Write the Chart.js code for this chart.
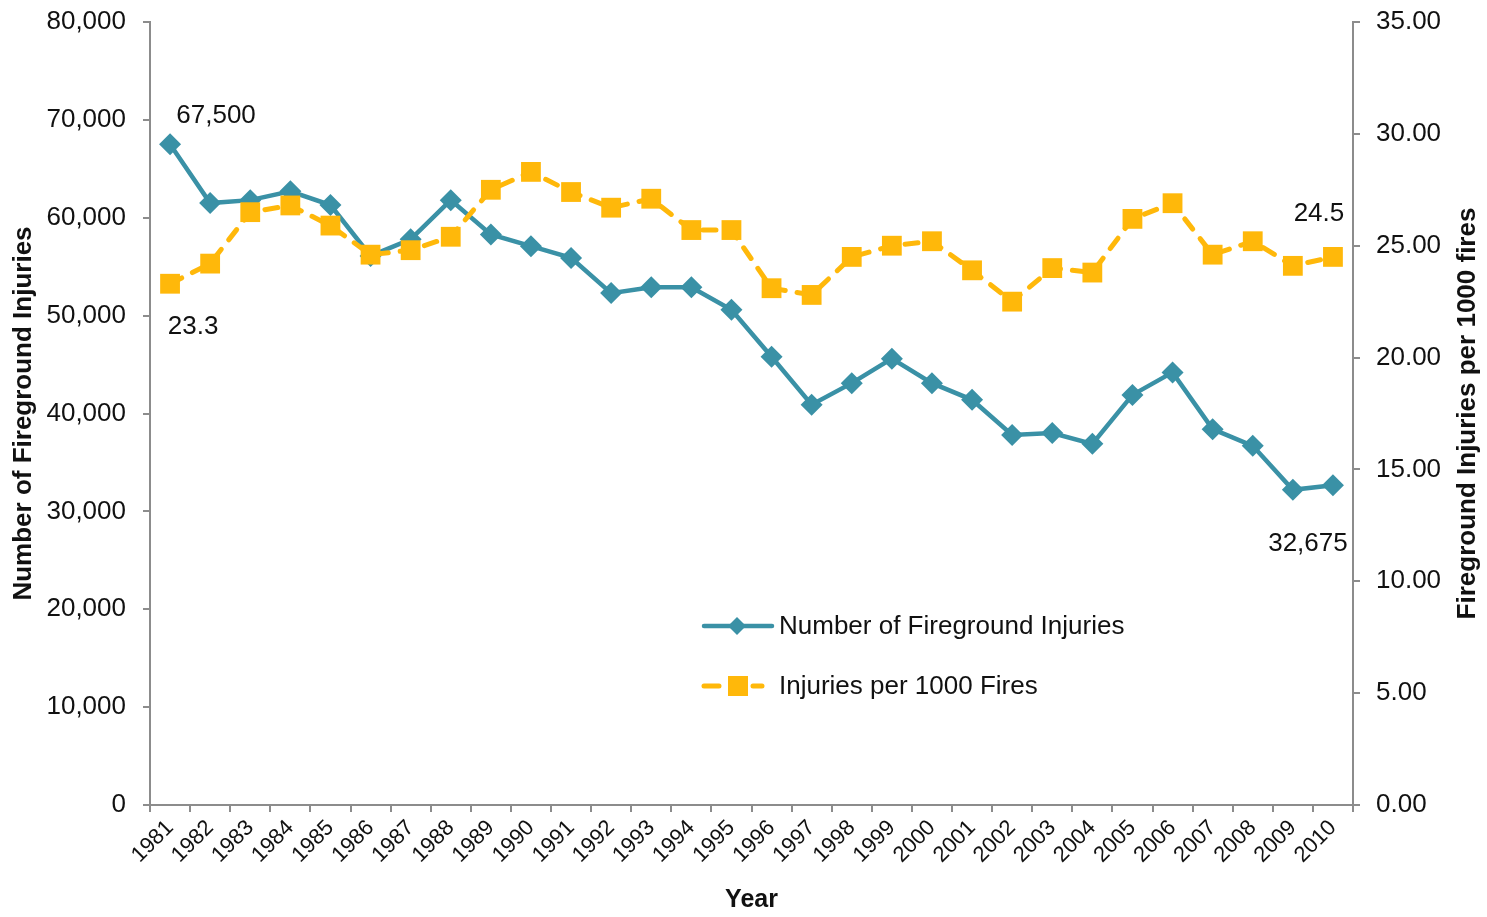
<!DOCTYPE html>
<html>
<head>
<meta charset="utf-8">
<script src="https://cdn.jsdelivr.net/npm/chart.js@4.4.0/dist/chart.umd.min.js"></script>
<style>
  html, body { margin: 0; padding: 0; background: #fff; }
  #wrap { width: 1487px; height: 917px; }
</style>
</head>
<body>
<div id="wrap"><canvas id="chart" width="1487" height="917"></canvas></div>
<script>
// Years on the x axis
var years = ['1981', '1982', '1983', '1984', '1985', '1986', '1987', '1988', '1989', '1990',
             '1991', '1992', '1993', '1994', '1995', '1996', '1997', '1998', '1999', '2000',
             '2001', '2002', '2003', '2004', '2005', '2006', '2007', '2008', '2009', '2010'];

// Number of fireground injuries (left axis)
var injuries = [67500, 61500, 61800, 62700, 61300, 56100, 57800, 61800, 58300, 57100,
                55900, 52300, 52900, 52900, 50600, 45800, 40900, 43100, 45600, 43100,
                41400, 37800, 38000, 36900, 41900, 44200, 38400, 36700, 32200, 32675];

// Injuries per 1000 fires (right axis)
var perThousand = [23.3, 24.2, 26.5, 26.8, 25.9, 24.6, 24.8, 25.4, 27.5, 28.3,
                   27.4, 26.7, 27.1, 25.7, 25.7, 23.1, 22.8, 24.5, 25.0, 25.2,
                   23.9, 22.5, 24.0, 23.8, 26.2, 26.9, 24.6, 25.2, 24.1, 24.5];

// Labels written next to some points: [dataset, index, text, dx, dy]
var pointNotes = [
    [0, 0, '67,500', 46, -29],
    [1, 0, '23.3', 23, 43],
    [1, 29, '24.5', -14, -43],
    [0, 29, '32,675', -25, 59]
];

var blue = 'rgb(58,145,166)';
var yellow = 'rgb(255,184,10)';
var axisGrey = '#8c8c8c';
var FONT = "'Liberation Sans', Arial, sans-serif";

// Notes, inside legend and right axis title
var extras = {
    id: 'extras',
    afterDraw: function(chart) {
        var ctx = chart.ctx;
        ctx.save();
        ctx.fillStyle = '#111';
        ctx.font = '26px ' + FONT;
        ctx.textAlign = 'center';
        ctx.textBaseline = 'middle';
        pointNotes.forEach(function(n) {
            var pt = chart.getDatasetMeta(n[0]).data[n[1]];
            ctx.fillText(n[2], pt.x + n[3], pt.y + n[4]);
        });

        // legend
        var ds = chart.data.datasets;
        ctx.textAlign = 'left';
        ctx.lineCap = 'round';
        // line 1
        ctx.strokeStyle = ds[0].borderColor;
        ctx.lineWidth = 4.5;
        ctx.beginPath();
        ctx.moveTo(704, 626);
        ctx.lineTo(772, 626);
        ctx.stroke();
        ctx.fillStyle = ds[0].borderColor;
        ctx.beginPath();
        ctx.moveTo(737, 617); ctx.lineTo(746, 626); ctx.lineTo(737, 635); ctx.lineTo(728, 626);
        ctx.closePath();
        ctx.fill();
        ctx.fillStyle = '#111';
        ctx.fillText(ds[0].label, 779, 627);
        // line 2
        ctx.strokeStyle = ds[1].borderColor;
        ctx.lineWidth = 5;
        ctx.beginPath();
        ctx.moveTo(704, 686); ctx.lineTo(719, 686);
        ctx.moveTo(753, 686); ctx.lineTo(762, 686);
        ctx.stroke();
        ctx.fillStyle = ds[1].borderColor;
        ctx.fillRect(728, 676, 20, 20);
        ctx.fillStyle = '#111';
        ctx.fillText(ds[1].label, 779, 687);

        // right axis title, reading bottom to top
        var area = chart.chartArea;
        ctx.translate(1468, (area.top + area.bottom) / 2);
        ctx.rotate(-Math.PI / 2);
        ctx.textAlign = 'center';
        ctx.font = 'bold 26px ' + FONT;
        ctx.fillText('Fireground Injuries per 1000 fires', 0, 0);
        ctx.restore();
    }
};

// fixed box sizes so the plot area sits where it does in the original
function fixWidth(w) {
    return function(s) { s.width = w; s.paddingTop = 0; s.paddingBottom = 0; };
}

var ctx = document.getElementById('chart').getContext('2d');
new Chart(ctx, {
    type: 'line',
    data: {
        labels: years,
        datasets: [{
            label: 'Number of Fireground Injuries',
            data: injuries,
            yAxisID: 'y',
            borderColor: blue,
            backgroundColor: blue,
            borderWidth: 4.5,
            pointStyle: 'rectRot',
            pointRadius: 11,
            pointBorderWidth: 0,
            tension: 0,
            order: 1
        }, {
            label: 'Injuries per 1000 Fires',
            data: perThousand,
            yAxisID: 'y1',
            borderColor: yellow,
            backgroundColor: yellow,
            borderWidth: 5,
            borderDash: [13, 12],
            borderCapStyle: 'round',
            pointStyle: 'rect',
            pointRadius: 14,
            pointBorderWidth: 0,
            tension: 0,
            order: 0
        }]
    },
    options: {
        responsive: false,
        animation: false,
        layout: { padding: { top: 22, left: 0, right: 0, bottom: 0 } },
        plugins: {
            legend: { display: false },
            tooltip: { enabled: false }
        },
        scales: {
            x: {
                offset: true,
                grid: { drawOnChartArea: false, offset: true, tickLength: 7, color: axisGrey, lineWidth: 2 },
                border: { color: axisGrey, width: 2 },
                ticks: { color: '#111', font: { family: FONT, size: 22 }, maxRotation: 45, minRotation: 45, padding: 3, autoSkip: false },
                title: { display: true, text: 'Year', color: '#111', font: { family: FONT, size: 25, weight: 'bold' }, padding: { top: 0, bottom: 2 } },
                afterFit: function(s) { s.height = 112; s.paddingLeft = 0; s.paddingRight = 0; }
            },
            y: {
                position: 'left',
                min: 0,
                max: 80000,
                grid: { drawOnChartArea: false, tickLength: 7, color: axisGrey, lineWidth: 2 },
                border: { color: axisGrey, width: 2 },
                ticks: {
                    stepSize: 10000,
                    padding: 17,
                    color: '#111',
                    font: { family: FONT, size: 26 },
                    callback: function(v) { return v.toLocaleString('en-US'); }
                },
                title: { display: true, text: 'Number of Fireground Injuries', color: '#111', font: { family: FONT, size: 26, weight: 'bold' }, padding: { top: 8, bottom: 0 } },
                afterFit: fixWidth(150)
            },
            y1: {
                position: 'right',
                min: 0,
                max: 35,
                grid: { drawOnChartArea: false, tickLength: 7, color: axisGrey, lineWidth: 2 },
                border: { color: axisGrey, width: 2 },
                ticks: {
                    stepSize: 5,
                    padding: 16,
                    color: '#111',
                    font: { family: FONT, size: 26 },
                    callback: function(v) { return v.toFixed(2); }
                },
                afterFit: fixWidth(134)
            }
        }
    },
    plugins: [extras]
});
</script>
</body>
</html>
